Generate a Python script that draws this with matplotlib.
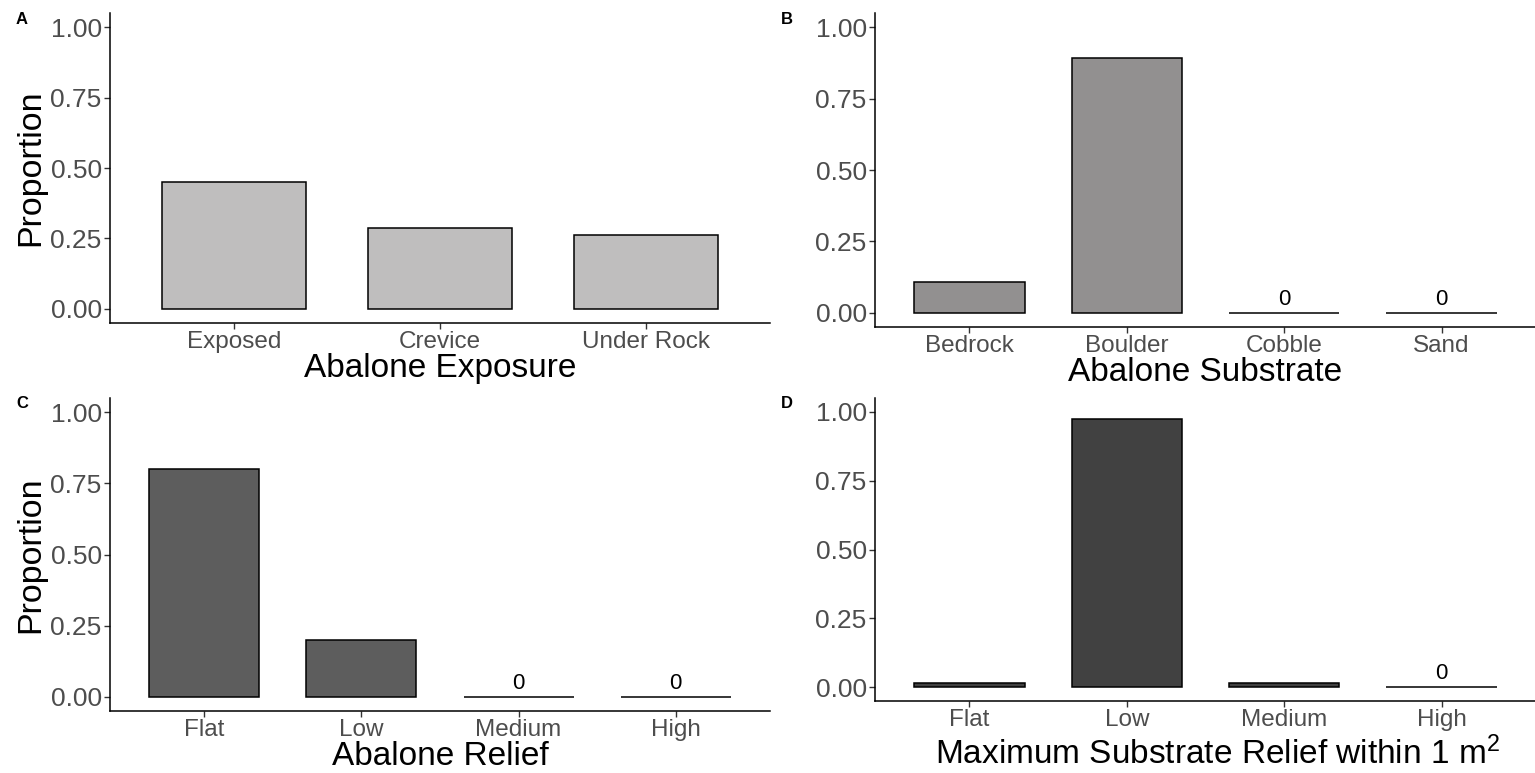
import matplotlib
matplotlib.use("Agg")
import matplotlib.pyplot as plt

plt.rcParams["font.family"] = ["Liberation Sans", "DejaVu Sans"]
plt.rcParams["mathtext.default"] = "regular"

# Data
exposure_cats = ["Exposed", "Crevice", "Under Rock"]
exposure_vals = [0.452, 0.287, 0.261]

substrate_cats = ["Bedrock", "Boulder", "Cobble", "Sand"]
substrate_vals = [0.108, 0.892, 0.0, 0.0]

relief_cats = ["Flat", "Low", "Medium", "High"]
relief_vals = [0.80, 0.20, 0.0, 0.0]

max_relief_cats = ["Flat", "Low", "Medium", "High"]
max_relief_vals = [0.014, 0.972, 0.014, 0.0]

yticks = [0.00, 0.25, 0.50, 0.75, 1.00]

W, H = 1535, 773
fig = plt.figure(figsize=(W / 100, H / 100), dpi=100)


def px_axes(left, top, right, bottom):
    return fig.add_axes([left / W, 1 - bottom / H, (right - left) / W, (bottom - top) / H])


panels = [
    dict(box=(110, 13, 770, 323), cats=exposure_cats, vals=exposure_vals,
         color="#bfbebe", xlabel="Abalone Exposure", ylabel="Proportion", tag="A",
         label_shift=0.0, label_pad=0),
    dict(box=(875, 13, 1536, 327), cats=substrate_cats, vals=substrate_vals,
         color="#929090", xlabel="Abalone Substrate", ylabel=None, tag="B",
         label_shift=0.0, label_pad=0),
    dict(box=(110, 398, 770, 711), cats=relief_cats, vals=relief_vals,
         color="#5d5d5d", xlabel="Abalone Relief", ylabel="Proportion", tag="C",
         label_shift=0.0, label_pad=0),
    dict(box=(875, 398, 1536, 701), cats=max_relief_cats, vals=max_relief_vals,
         color="#414141", xlabel=r"Maximum Substrate Relief within 1 m$^{2}$",
         ylabel=None, tag="D", label_shift=12.0, label_pad=4),
]

for p in panels:
    ax = px_axes(*p["box"])
    n = len(p["cats"])
    xs = list(range(1, n + 1))
    ax.bar(xs, p["vals"], width=0.7, color=p["color"], edgecolor="black",
           linewidth=1.1, zorder=2)
    for x, v in zip(xs, p["vals"]):
        if v == 0:
            ax.annotate("0", (x, v), xytext=(0, 2), textcoords="offset points",
                        ha="center", va="bottom", fontsize=16, color="black")
    ax.set_xlim(0.4, n + 0.6)
    ax.set_ylim(-0.05, 1.05)
    ax.set_xticks(xs)
    ax.set_xticklabels(p["cats"], fontsize=17.5, color="#4d4d4d")
    ax.set_yticks(yticks)
    ax.set_yticklabels([f"{t:.2f}" for t in yticks], fontsize=19, color="#4d4d4d")
    ax.tick_params(axis="both", length=4, width=1, color="#333333", pad=2)
    for s in ["top", "right"]:
        ax.spines[s].set_visible(False)
    for s in ["left", "bottom"]:
        ax.spines[s].set_linewidth(1.1)
        ax.spines[s].set_color("black")
    ax.set_xlabel(p["xlabel"], fontsize=24, color="black", labelpad=p["label_pad"])
    if p["label_shift"]:
        axw = p["box"][2] - p["box"][0]
        ax.xaxis.label.set_x(0.5 + p["label_shift"] / axw)
    if p["ylabel"]:
        ax.set_ylabel(p["ylabel"], fontsize=24.5, color="black", labelpad=3)
    left, top = p["box"][0], p["box"][1]
    fig.text((left - 94) / W, 1 - (top + 6) / H, p["tag"], fontsize=12,
             fontweight="bold", ha="left", va="center")

fig.savefig("out.png", dpi=100, facecolor="white")
